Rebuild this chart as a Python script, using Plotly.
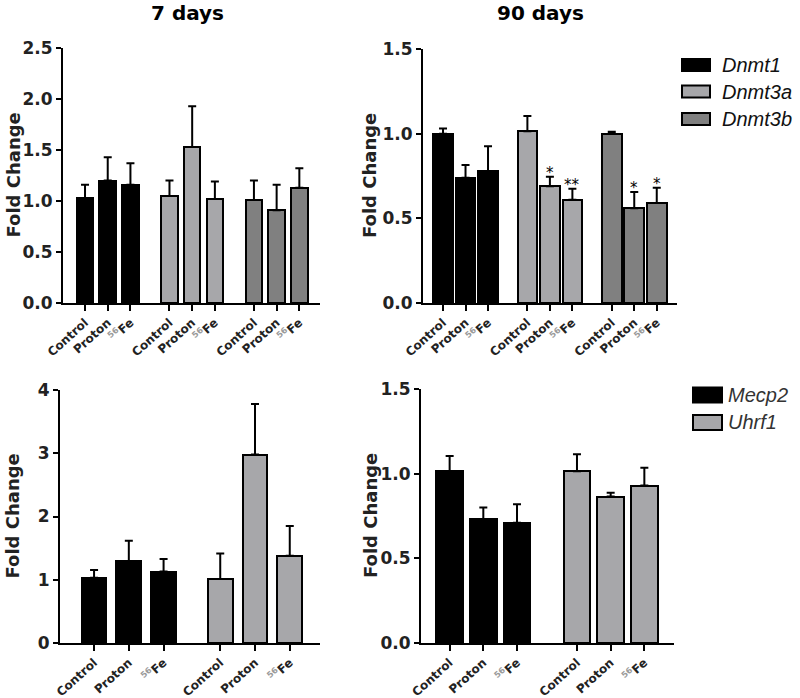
import plotly.graph_objects as go

# ---------------- data ----------------
treatments = ["Control", "Proton", "<span style='color:#9a9a9a'><sup>56</sup></span>Fe"]
dnmt_genes = ["Dnmt1", "Dnmt3a", "Dnmt3b"]
other_genes = ["Mecp2", "Uhrf1"]
dnmt_colors = ["#000000", "#a7a7aa", "#808080"]
other_colors = ["#000000", "#a7a7aa"]
panel_titles = ["7 days", "90 days"]

# 7 days, DNMTs
dnmt1_7d = [1.03, 1.20, 1.16]
dnmt1_7d_err = [0.13, 0.23, 0.21]
dnmt3a_7d = [1.05, 1.53, 1.02]
dnmt3a_7d_err = [0.15, 0.40, 0.17]
dnmt3b_7d = [1.01, 0.91, 1.13]
dnmt3b_7d_err = [0.19, 0.25, 0.19]

# 90 days, DNMTs
dnmt1_90d = [1.00, 0.74, 0.78]
dnmt1_90d_err = [0.03, 0.075, 0.145]
dnmt3a_90d = [1.015, 0.69, 0.61]
dnmt3a_90d_err = [0.09, 0.055, 0.065]
dnmt3b_90d = [1.00, 0.56, 0.59]
dnmt3b_90d_err = [0.012, 0.095, 0.09]
dnmt1_90d_sig = ["", "", ""]
dnmt3a_90d_sig = ["", "*", "**"]
dnmt3b_90d_sig = ["", "*", "*"]

# 7 days, Mecp2 / Uhrf1
mecp2_7d = [1.03, 1.29, 1.13]
mecp2_7d_err = [0.125, 0.325, 0.20]
uhrf1_7d = [1.01, 2.98, 1.38]
uhrf1_7d_err = [0.405, 0.80, 0.47]

# 90 days, Mecp2 / Uhrf1
mecp2_90d = [1.015, 0.73, 0.71]
mecp2_90d_err = [0.09, 0.07, 0.11]
uhrf1_90d = [1.015, 0.865, 0.93]
uhrf1_90d_err = [0.10, 0.022, 0.105]

# ---------------- layout config ----------------
W, H = 800, 698
FAM = "DejaVu Sans"

def px_x(p):
    return p / W

def px_y(p):
    return 1 - p / H

panels = [
    dict(ax="", series=[dnmt1_7d, dnmt3a_7d, dnmt3b_7d],
         errs=[dnmt1_7d_err, dnmt3a_7d_err, dnmt3b_7d_err], sigs=None,
         names=dnmt_genes, colors=dnmt_colors, gap=3.72, bw=0.73,
         xr=[-0.97, 10.35], yr=[0, 2.5], dtick=0.5, fmt=".1f",
         xd=[63, 320], yd=[303, 48]),
    dict(ax="2", series=[dnmt1_90d, dnmt3a_90d, dnmt3b_90d],
         errs=[dnmt1_90d_err, dnmt3a_90d_err, dnmt3b_90d_err],
         sigs=[dnmt1_90d_sig, dnmt3a_90d_sig, dnmt3b_90d_sig],
         names=dnmt_genes, colors=dnmt_colors, gap=3.75, bw=0.87,
         xr=[-0.89, 10.4], yr=[0, 1.5], dtick=0.5, fmt=".1f",
         xd=[423, 677], yd=[303, 49]),
    dict(ax="3", series=[mecp2_7d, uhrf1_7d], errs=[mecp2_7d_err, uhrf1_7d_err],
         sigs=None, names=other_genes, colors=other_colors, gap=3.63, bw=0.71,
         xr=[-0.98, 6.5], yr=[0, 4], dtick=1, fmt="d",
         xd=[60, 320], yd=[643, 390]),
    dict(ax="4", series=[mecp2_90d, uhrf1_90d], errs=[mecp2_90d_err, uhrf1_90d_err],
         sigs=None, names=other_genes, colors=other_colors, gap=3.78, bw=0.80,
         xr=[-0.85, 6.66], yr=[0, 1.5], dtick=0.5, fmt=".1f",
         xd=[421, 674], yd=[643, 389]),
]

fig = go.Figure()
annotations = []
layout_axes = {}

for p in panels:
    a = p["ax"]
    tickvals, ticktext = [], []
    for g, (vals, errs, col, name) in enumerate(zip(p["series"], p["errs"], p["colors"], p["names"])):
        xs = [g * p["gap"] + i for i in range(len(vals))]
        tickvals += xs
        ticktext += treatments
        fig.add_trace(go.Bar(
            x=xs, y=vals, width=p["bw"], name=name, showlegend=False,
            marker=dict(color=col, line=dict(color="black", width=2)),
            error_y=dict(type="data", symmetric=False, array=errs,
                         arrayminus=[0] * len(errs), color="black",
                         thickness=2, width=4),
            xaxis="x" + a, yaxis="y" + a,
        ))
        if p["sigs"]:
            for xv, v, e, s in zip(xs, vals, errs, p["sigs"][g]):
                if s:
                    annotations.append(dict(
                        x=xv, y=v + e, xref="x" + a, yref="y" + a, text=s,
                        showarrow=False, yanchor="bottom", yshift=-7,
                        font=dict(family=FAM, size=15, color="black")))
    layout_axes["xaxis" + a] = dict(
        domain=[px_x(p["xd"][0]), px_x(p["xd"][1])], range=p["xr"],
        anchor="y" + a, showline=True, linewidth=2, linecolor="black",
        ticks="outside", ticklen=6, tickwidth=2, tickcolor="black",
        tickvals=tickvals, ticktext=ticktext, tickangle=-42,
        tickfont=dict(family=FAM, size=12, color="#222", weight="bold"),
        showgrid=False, zeroline=False, fixedrange=True, automargin=False)
    layout_axes["yaxis" + a] = dict(
        domain=[px_y(p["yd"][0]), px_y(p["yd"][1])], range=p["yr"],
        anchor="x" + a, showline=True, linewidth=2, linecolor="black",
        ticks="outside", ticklen=5, tickwidth=2, tickcolor="black",
        dtick=p["dtick"], tick0=0, tickformat=p["fmt"],
        tickfont=dict(family=FAM, size=17, color="#222", weight="bold"),
        showgrid=False, zeroline=False, fixedrange=True, automargin=False)

# y-axis titles
for xc, yd in [(13, [303, 48]), (370, [303, 49]), (12, [643, 390]), (370, [643, 389])]:
    annotations.append(dict(
        x=px_x(xc), y=px_y((yd[0] + yd[1]) / 2), xref="paper", yref="paper",
        text="<b>Fold Change</b>", textangle=-90, showarrow=False,
        xanchor="center", yanchor="middle",
        font=dict(family=FAM, size=18, color="#222")))

# panel titles
for xc, t in zip([187, 540], panel_titles):
    annotations.append(dict(
        x=px_x(xc), y=px_y(13), xref="paper", yref="paper", text="<b>%s</b>" % t,
        showarrow=False, xanchor="center", yanchor="middle",
        font=dict(family=FAM, size=20, color="black")))

# legends (drawn boxes + italic labels)
shapes = []
legend_specs = [
    (dnmt_genes, dnmt_colors, [682, 710], [65, 91.5, 119], 12, 720, 20, "#111"),
    (other_genes, other_colors, [693, 722], [395, 422.5], 15, 726, 20, "#333"),
]
for names, cols, (bx0, bx1), ycs, bh, tx, fs, tcol in legend_specs:
    for name, col, yc in zip(names, cols, ycs):
        shapes.append(dict(type="rect", xref="paper", yref="paper",
                           x0=px_x(bx0), x1=px_x(bx1),
                           y0=px_y(yc + bh / 2), y1=px_y(yc - bh / 2),
                           fillcolor=col, line=dict(color="black", width=2)))
        annotations.append(dict(
            x=px_x(tx), y=px_y(yc), xref="paper", yref="paper",
            text="<i>%s</i>" % name, showarrow=False, xanchor="left",
            yanchor="middle",
            font=dict(family="Liberation Sans", size=fs, color=tcol)))

fig.update_layout(
    width=W, height=H, margin=dict(l=0, r=0, t=0, b=0),
    paper_bgcolor="white", plot_bgcolor="white",
    showlegend=False, bargap=0, annotations=annotations, shapes=shapes,
    **layout_axes)

fig.write_html("out.html", config={"displayModeBar": False},
               post_script="document.body.style.margin='0px';document.body.style.padding='0px';")
